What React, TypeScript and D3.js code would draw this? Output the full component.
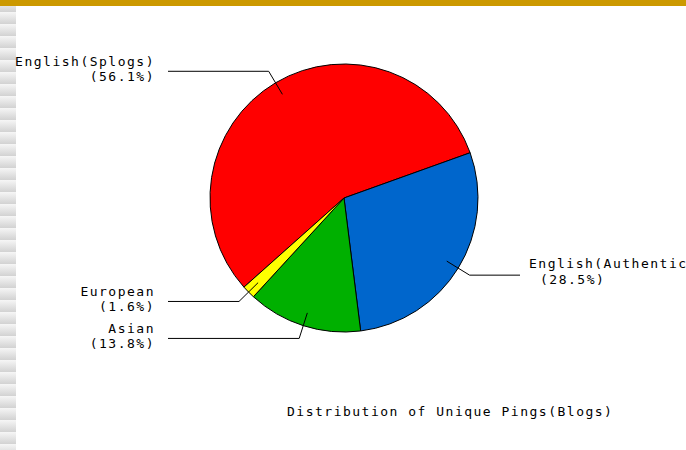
import React from "react";
import * as d3 from "d3";

// slice data, in drawing order (clockwise)
const categories = ["English(Splogs)", "English(Authentic)", "Asian", "European"];
const shares = [56.1, 28.5, 13.8, 1.6];
const colors = ["#ff0000", "#0066cc", "#00b000", "#ffff00"];
const title = "Distribution of Unique Pings(Blogs)";

const width = 686;
const height = 450;
const cx = 344;
const cy = 198;
const radius = 134;
const font = "'DejaVu Sans Mono', monospace";

export default function App() {
  const pie = d3
    .pie<number>()
    .sort(null)
    .value(d => d)
    .startAngle((-131.7 * Math.PI) / 180)
    .endAngle(((360 - 131.7) * Math.PI) / 180);
  const arcs = pie(shares);
  const arc = d3.arc<d3.PieArcDatum<number>>().innerRadius(0).outerRadius(radius);

  const point = (a: number, r: number) => [r * Math.sin(a), -r * Math.cos(a)];

  return (
    <div style={{ position: "fixed", left: 0, top: 0 }}>
      <svg width={width} height={height} style={{ display: "block", background: "#fff" }}>
        <defs>
          <linearGradient id="band" x1="0" y1="0" x2="0" y2="1">
            <stop offset="0" stopColor="#f6f6f6" />
            <stop offset="1" stopColor="#d2d2d2" />
          </linearGradient>
          <pattern id="stripes" width="16" height="12" patternUnits="userSpaceOnUse">
            <rect width="16" height="12" fill="url(#band)" />
          </pattern>
        </defs>
        <rect x={0} y={0} width={16} height={height} fill="url(#stripes)" />
        <rect x={0} y={0} width={width} height={6} fill="#cc9900" />

        <g transform={`translate(${cx},${cy})`}>
          {arcs.map((a, i) => (
            <path key={i} d={arc(a) || ""} fill={colors[i]} stroke="#000" strokeWidth={1} />
          ))}
          {arcs.map((a, i) => {
            const mid = (a.startAngle + a.endAngle) / 2;
            const [x0, y0] = point(mid, radius * 0.9);
            const [x1, y1] = point(mid, radius * 1.1);
            const right = x1 > 0;
            const x2 = right ? 520 - cx : 168 - cx;
            const tx = right ? 529 - cx : 155 - cx;
            const up = right ? 7 : 5;
            const down = right ? 9 : 10;
            return (
              <g key={i}>
                <polyline
                  points={`${x0},${y0} ${x1},${y1} ${x2},${y1}`}
                  fill="none"
                  stroke="#000"
                  strokeWidth={1}
                />
                <text
                  x={tx}
                  y={y1 - up}
                  textAnchor={right ? "start" : "end"}
                  fontFamily={font}
                  fontSize={13}
                  letterSpacing={1.5}
                >
                  {categories[i]}
                </text>
                <text
                  x={right ? tx + 11 : tx}
                  y={y1 + down}
                  textAnchor={right ? "start" : "end"}
                  fontFamily={font}
                  fontSize={13}
                  letterSpacing={1.5}
                >
                  {`(${shares[i].toFixed(1)}%)`}
                </text>
              </g>
            );
          })}
        </g>

        <text x={287} y={416} fontFamily={font} fontSize={13} letterSpacing={1.5}>
          {title}
        </text>
      </svg>
    </div>
  );
}
